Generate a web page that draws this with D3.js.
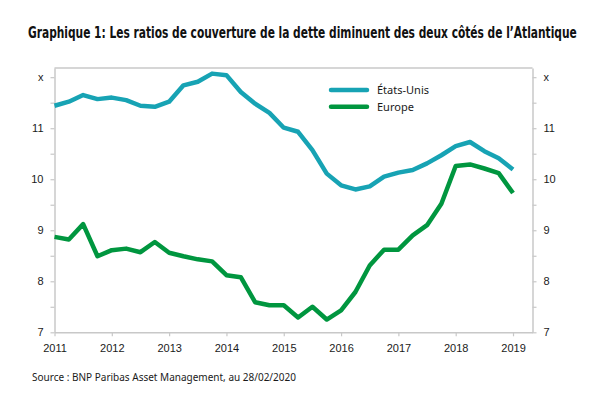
<!DOCTYPE html>
<html><head><meta charset="utf-8">
<script src="https://cdn.jsdelivr.net/npm/d3@7"></script>
<style>
body{margin:0;background:#fff;}
svg{display:block;}
.tick text{font-family:"Liberation Sans",Arial,sans-serif;font-size:11px;fill:#1a1a1a;}
</style></head>
<body>
<svg id="c" width="600" height="400"></svg>
<script>
const quarters = [2011,2011.25,2011.5,2011.75,2012,2012.25,2012.5,2012.75,2013,2013.25,2013.5,2013.75,2014,2014.25,2014.5,2014.75,2015,2015.25,2015.5,2015.75,2016,2016.25,2016.5,2016.75,2017,2017.25,2017.5,2017.75,2018,2018.25,2018.5,2018.75,2019];
const usValues = [11.44,11.52,11.65,11.57,11.60,11.55,11.44,11.42,11.52,11.84,11.91,12.07,12.04,11.71,11.48,11.30,11.01,10.93,10.57,10.11,9.88,9.80,9.86,10.05,10.13,10.18,10.31,10.47,10.65,10.73,10.55,10.41,10.19];
const europeValues = [8.87,8.82,9.12,8.49,8.61,8.64,8.57,8.77,8.56,8.49,8.43,8.39,8.12,8.08,7.59,7.53,7.53,7.29,7.50,7.25,7.43,7.79,8.31,8.62,8.62,8.90,9.10,9.52,10.26,10.29,10.21,10.12,9.73];
const yearTicks = [2011,2012,2013,2014,2015,2016,2017,2018,2019];
const yTicks = [7,7.5,8,8.5,9,9.5,10,10.5,11,11.5,12];
const yLabels = {7:"7",8:"8",9:"9",10:"10",11:"11",12:"x"};
const seriesNames = ["États-Unis","Europe"];
const seriesColors = ["#17a3b4","#00963f"];
const titleText = "Graphique 1: Les ratios de couverture de la dette diminuent des deux côtés de l’Atlantique";
const sourceText = "Source : BNP Paribas Asset Management, au 28/02/2020";

const svg = d3.select("#c");
const L = 54.5, R = 532.5, T = 68, B = 332.3;
const x = d3.scaleLinear().domain([2011, 2019.34]).range([L, R]);
const y = d3.scaleLinear().domain([7, 12.18]).range([B, T]);

const title = svg.append("text").attr("x", 0).attr("y", 0)
  .attr("transform", "translate(28,37.5) scale(1,1.4)")
  .style("font-family", "'Liberation Sans Narrow','DejaVu Sans Condensed',sans-serif")
  .style("font-weight", "bold").style("font-size", "17px").style("fill", "#111")
  .text(titleText);
const tw = title.node().getComputedTextLength();
title.style("font-size", (17 * 549 / tw).toFixed(2) + "px");

// frame top line
svg.append("line").attr("x1", L).attr("x2", R).attr("y1", T).attr("y2", T)
  .attr("stroke", "#c8c8c8").attr("stroke-width", 1.3);

const fmtY = d => yLabels[d] || "";
const styleAxis = g => { g.select(".domain").attr("stroke", "#c8c8c8").attr("stroke-width", 1.5);
  g.selectAll(".tick line").attr("stroke", "#c8c8c8").attr("stroke-width", 1.2); };

svg.append("g").attr("transform", `translate(${L},0)`)
  .call(d3.axisLeft(y).tickValues(yTicks).tickFormat(fmtY).tickSize(4).tickSizeOuter(0).tickPadding(7))
  .call(styleAxis);
svg.append("g").attr("transform", `translate(${R},0)`)
  .call(d3.axisRight(y).tickValues(yTicks).tickFormat(fmtY).tickSize(4).tickSizeOuter(0).tickPadding(7))
  .call(styleAxis);
svg.append("g").attr("transform", `translate(0,${B})`)
  .call(d3.axisBottom(x).tickValues(yearTicks).tickFormat(d3.format("d")).tickSize(4).tickSizeOuter(0).tickPadding(8))
  .call(styleAxis);

const line = d3.line().x(d => x(d[0])).y(d => y(d[1]));
[usValues, europeValues].forEach((vals, i) => {
  svg.append("path").datum(quarters.map((q, j) => [q, vals[j]]))
    .attr("d", line).attr("fill", "none").attr("stroke", seriesColors[i])
    .attr("stroke-width", 4.5).attr("stroke-linejoin", "round");
});

// legend
seriesNames.forEach((n, i) => {
  const ly = 90 + i * 16.7;
  svg.append("line").attr("x1", 331).attr("x2", 367).attr("y1", ly).attr("y2", ly)
    .attr("stroke", seriesColors[i]).attr("stroke-width", 4.5).attr("stroke-linecap", "round");
  svg.append("text").attr("x", 377).attr("y", ly + 4)
    .style("font-family", "'Noto Sans',sans-serif").style("font-size", "11px").style("fill", "#1a1a1a")
    .text(n);
});

svg.append("text").attr("x", 32).attr("y", 381)
  .style("font-family", "'Noto Sans',sans-serif").style("font-size", "10px").style("fill", "#1a1a1a")
  .text(sourceText);
</script>
</body></html>
